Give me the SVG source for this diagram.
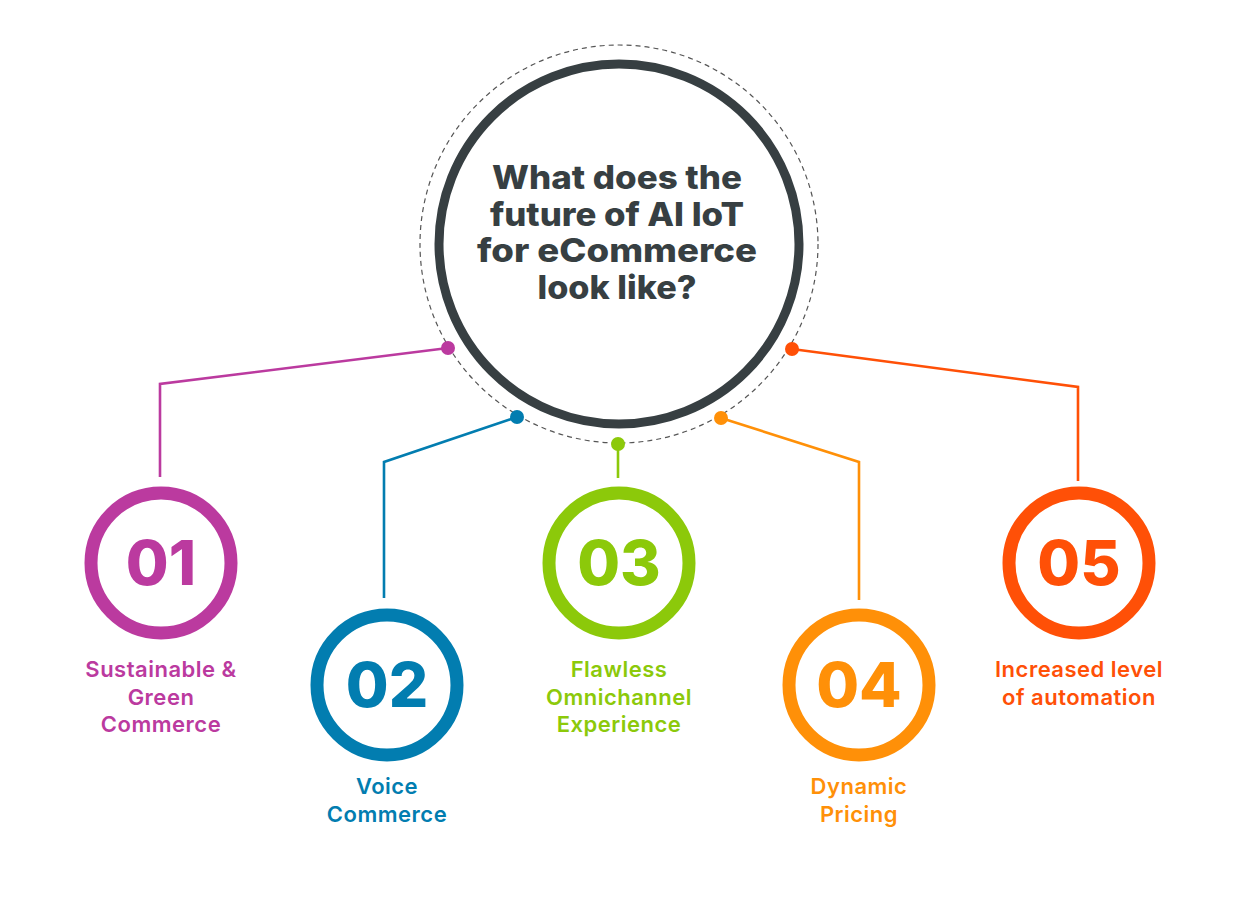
<svg xmlns="http://www.w3.org/2000/svg" width="1241" height="897" viewBox="0 0 1241 897">
<style>
.title{font-family:Inter,"Liberation Sans",sans-serif;font-weight:800;font-size:33px;fill:#373f42;text-anchor:middle}
.num{font-family:Inter,"Liberation Sans",sans-serif;font-weight:800;font-size:62px;text-anchor:middle}
.lbl{font-family:Inter,"Liberation Sans",sans-serif;font-weight:600;font-size:22px;letter-spacing:0.5px;text-anchor:middle}
.ring{fill:#fff;stroke-width:13}
.conn{fill:none;stroke-width:2.6}
.c1{stroke:#bb3a9f}.f1{fill:#bb3a9f}
.c2{stroke:#027db0}.f2{fill:#027db0}
.c3{stroke:#8cc90a}.f3{fill:#8cc90a}
.c4{stroke:#ff9008}.f4{fill:#ff9008}
.c5{stroke:#ff5007}.f5{fill:#ff5007}
</style>
<rect width="1241" height="897" fill="#fff"/>
<g id="center">
<circle cx="619" cy="244" r="199" fill="none" stroke="#555" stroke-width="1.2" stroke-dasharray="5 4"/>
<circle cx="619" cy="244" r="180" fill="#fff" stroke="#373f42" stroke-width="9"/>
<text class="title" x="617" y="189" textLength="250" lengthAdjust="spacingAndGlyphs">What does the</text>
<text class="title" x="617" y="226" textLength="254" lengthAdjust="spacingAndGlyphs">future of AI IoT</text>
<text class="title" x="617" y="262" textLength="280" lengthAdjust="spacingAndGlyphs">for eCommerce</text>
<text class="title" x="617" y="299" textLength="159" lengthAdjust="spacingAndGlyphs">look like?</text>
</g>
<g id="connectors">
<polyline class="conn c1" points="448,348 160,384 160,477"/>
<polyline class="conn c2" points="517,417 384,462 384,598"/>
<polyline class="conn c3" points="618,444 618,478"/>
<polyline class="conn c4" points="721,418 859,462 859,600"/>
<polyline class="conn c5" points="792,349 1078,387 1078,481"/>
<circle class="f1" cx="448" cy="348" r="7"/>
<circle class="f2" cx="517" cy="417" r="7"/>
<circle class="f3" cx="618" cy="444" r="7"/>
<circle class="f4" cx="721" cy="418" r="7"/>
<circle class="f5" cx="792" cy="349" r="7"/>
</g>
<g id="n01">
<circle class="ring c1" cx="161" cy="563" r="70"/>
<text class="num f1" x="161" y="585">01</text>
<text class="lbl f1" x="161" y="677">Sustainable &amp;</text>
<text class="lbl f1" x="161" y="705">Green</text>
<text class="lbl f1" x="161" y="732">Commerce</text>
</g>
<g id="n02">
<circle class="ring c2" cx="387" cy="685" r="70"/>
<text class="num f2" x="387" y="707">02</text>
<text class="lbl f2" x="387" y="794">Voice</text>
<text class="lbl f2" x="387" y="822">Commerce</text>
</g>
<g id="n03">
<circle class="ring c3" cx="619" cy="563" r="70"/>
<text class="num f3" x="619" y="585">03</text>
<text class="lbl f3" x="619" y="677">Flawless</text>
<text class="lbl f3" x="619" y="705">Omnichannel</text>
<text class="lbl f3" x="619" y="732">Experience</text>
</g>
<g id="n04">
<circle class="ring c4" cx="859" cy="685" r="70"/>
<text class="num f4" x="859" y="707">04</text>
<text class="lbl f4" x="859" y="794">Dynamic</text>
<text class="lbl f4" x="859" y="822">Pricing</text>
</g>
<g id="n05">
<circle class="ring c5" cx="1079" cy="563" r="70"/>
<text class="num f5" x="1079" y="585">05</text>
<text class="lbl f5" x="1079" y="677">Increased level</text>
<text class="lbl f5" x="1079" y="705">of automation</text>
</g>
</svg>
